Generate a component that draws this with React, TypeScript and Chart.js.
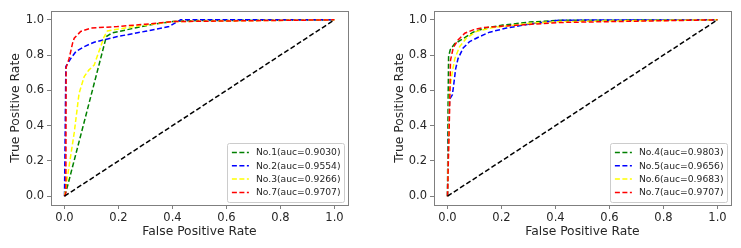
import React, { useEffect, useRef } from 'react';
import { Chart, registerables } from 'chart.js';

Chart.register(...registerables);

// ---------- data ----------
const TICKS = [0, 0.2, 0.4, 0.6, 0.8, 1.0];
const DIAG_FPR = [0, 1];
const DIAG_TPR = [0, 1];

const COLORS = ['green', 'blue', 'yellow', 'red'];

const LEFT_LABELS = ['No.1(auc=0.9030)', 'No.2(auc=0.9554)', 'No.3(auc=0.9266)', 'No.7(auc=0.9707)'];
const RIGHT_LABELS = ['No.4(auc=0.9803)', 'No.5(auc=0.9656)', 'No.6(auc=0.9683)', 'No.7(auc=0.9707)'];

const NO1_FPR = [0, 0.01, 0.155, 0.175, 0.25, 0.33, 0.4, 0.45, 1];
const NO1_TPR = [0, 0.05, 0.905, 0.925, 0.95, 0.975, 0.99, 0.995, 1];

const NO2_FPR = [0, 0.002, 0.005, 0.023, 0.042, 0.073, 0.11, 0.196, 0.3, 0.387, 0.43, 1];
const NO2_TPR = [0, 0.3, 0.735, 0.78, 0.82, 0.848, 0.873, 0.905, 0.935, 0.962, 1.0, 1.0];

const NO3_FPR = [0, 0.005, 0.02, 0.036, 0.054, 0.073, 0.09, 0.11, 0.147, 0.159, 0.258, 0.4, 1];
const NO3_TPR = [0, 0.05, 0.2, 0.36, 0.583, 0.678, 0.715, 0.744, 0.905, 0.937, 0.962, 0.99, 1];

const NO7L_FPR = [0, 0.005, 0.006, 0.017, 0.03, 0.036, 0.06, 0.097, 0.196, 0.3, 0.4, 1];
const NO7L_TPR = [0, 0.02, 0.73, 0.78, 0.868, 0.896, 0.934, 0.953, 0.962, 0.975, 0.99, 1];

const NO4_FPR = [0, 0.002, 0.004, 0.01, 0.027, 0.058, 0.095, 0.144, 0.205, 0.304, 0.415, 1];
const NO4_TPR = [0, 0.5, 0.79, 0.83, 0.865, 0.893, 0.93, 0.955, 0.97, 0.987, 0.997, 1];

const NO5_FPR = [0, 0.005, 0.008, 0.018, 0.022, 0.03, 0.039, 0.058, 0.082, 0.119, 0.156, 0.218, 0.304, 0.415, 1];
const NO5_TPR = [0, 0.45, 0.55, 0.575, 0.62, 0.72, 0.78, 0.84, 0.877, 0.905, 0.93, 0.953, 0.976, 0.998, 1];

const NO6_FPR = [0, 0.008, 0.018, 0.027, 0.045, 0.07, 0.107, 0.169, 0.304, 0.415, 1];
const NO6_TPR = [0, 0.6, 0.706, 0.78, 0.848, 0.896, 0.934, 0.956, 0.98, 0.99, 1];

const NO7R_FPR = [0, 0.008, 0.011, 0.021, 0.039, 0.064, 0.095, 0.132, 0.242, 0.415, 1];
const NO7R_TPR = [0, 0.5, 0.77, 0.84, 0.886, 0.924, 0.943, 0.956, 0.968, 0.985, 1];

const LEFT_SERIES = [
  [NO1_FPR, NO1_TPR],
  [NO2_FPR, NO2_TPR],
  [NO3_FPR, NO3_TPR],
  [NO7L_FPR, NO7L_TPR],
];
const RIGHT_SERIES = [
  [NO4_FPR, NO4_TPR],
  [NO5_FPR, NO5_TPR],
  [NO6_FPR, NO6_TPR],
  [NO7R_FPR, NO7R_TPR],
];

// ---------- styling ----------
const FONT = "'DejaVu Sans', sans-serif";
const TEXT = '#262626';
const FRAME = '#7f7f7f';
const DASH = [5, 2.5];

const zip = (xs: number[], ys: number[]) => xs.map((x, i) => ({ x, y: ys[i] }));

const framePlugin = {
  id: 'frame',
  afterDraw(chart: any) {
    const { ctx, chartArea: a } = chart;
    ctx.save();
    ctx.strokeStyle = FRAME;
    ctx.lineWidth = 1;
    ctx.strokeRect(Math.round(a.left) + 0.5, Math.round(a.top) + 0.5, Math.round(a.right - a.left), Math.round(a.bottom - a.top));
    ctx.restore();
  },
};

const legendPlugin = {
  id: 'rocLegend',
  afterDraw(chart: any) {
    const { ctx, chartArea: a } = chart;
    const items = chart.data.datasets.filter((d: any) => d.inLegend);
    ctx.save();
    ctx.font = `9.2px ${FONT}`;
    let tw = 0;
    items.forEach((d: any) => { tw = Math.max(tw, ctx.measureText(d.label).width); });
    const padL = 5, lineW = 17, gap = 7, padR = 3;
    const w = padL + lineW + gap + tw + padR;
    const h = 59;
    const x = a.right - 4.5 - w;
    const y = a.bottom - 3 - h;
    ctx.fillStyle = 'rgba(255,255,255,0.85)';
    ctx.strokeStyle = '#cccccc';
    ctx.lineWidth = 1;
    ctx.beginPath();
    (ctx as any).roundRect(Math.round(x) + 0.5, Math.round(y) + 0.5, Math.round(w), Math.round(h), 2);
    ctx.fill();
    ctx.stroke();
    items.forEach((d: any, i: number) => {
      const cy = y + 9.5 + i * 13.3;
      ctx.strokeStyle = d.borderColor;
      ctx.lineWidth = 1.5;
      ctx.setLineDash(DASH);
      ctx.beginPath();
      ctx.moveTo(x + padL, cy);
      ctx.lineTo(x + padL + lineW, cy);
      ctx.stroke();
      ctx.setLineDash([]);
      ctx.fillStyle = TEXT;
      ctx.textBaseline = 'middle';
      ctx.textAlign = 'left';
      ctx.fillText(d.label, x + padL + lineW + gap, cy + 0.5);
    });
    ctx.restore();
  },
};

function RocChart(props: { series: number[][][]; labels: string[]; yWidth: number; padRight: number; yTitlePad: number; width: number; left: number }) {
  const ref = useRef<HTMLCanvasElement | null>(null);
  useEffect(() => {
    if (!ref.current) return;
    const n = props.series.length;
    const datasets: any[] = props.series.map((s, i) => ({
      label: props.labels[i],
      data: zip(s[0], s[1]),
      borderColor: COLORS[i],
      borderWidth: 1.5,
      borderDash: DASH,
      pointRadius: 0,
      showLine: true,
      fill: false,
      tension: 0,
      inLegend: true,
      order: n + 1 - i,
    }));
    datasets.push({
      label: 'diag',
      data: zip(DIAG_FPR, DIAG_TPR),
      borderColor: 'black',
      borderWidth: 1.5,
      borderDash: DASH,
      pointRadius: 0,
      showLine: true,
      fill: false,
      inLegend: false,
      order: 0,
    });
    const tickSetter = (scale: any) => {
      scale.ticks = TICKS.map((v) => ({ value: v }));
    };
    const chart = new Chart(ref.current, {
      type: 'scatter',
      data: { datasets },
      options: {
        animation: false,
        responsive: false,
        maintainAspectRatio: false,
        devicePixelRatio: 1,
        layout: { padding: { top: 11, right: props.padRight, left: 0, bottom: 0 } },
        plugins: { legend: { display: false }, tooltip: { enabled: false } },
        scales: {
          x: {
            type: 'linear',
            min: -0.05,
            max: 1.05,
            afterBuildTicks: tickSetter,
            afterFit: (s: any) => { s.height = 43; },
            border: { display: false },
            grid: { drawOnChartArea: false, drawTicks: true, tickLength: 4, color: FRAME },
            ticks: { color: TEXT, font: { family: FONT, size: 11.5 }, padding: 2, maxRotation: 0, callback: (v: any) => Number(v).toFixed(1) },
            title: { display: true, text: 'False Positive Rate', color: TEXT, font: { family: FONT, size: 12.3 }, padding: { top: 0, bottom: 9 } },
          },
          y: {
            type: 'linear',
            min: -0.05,
            max: 1.05,
            afterBuildTicks: tickSetter,
            afterFit: (s: any) => { s.width = props.yWidth; },
            border: { display: false },
            grid: { drawOnChartArea: false, drawTicks: true, tickLength: 4, color: FRAME },
            ticks: { color: TEXT, font: { family: FONT, size: 11.5 }, padding: 3, callback: (v: any) => Number(v).toFixed(1) },
            title: { display: true, text: 'True Positive Rate', color: TEXT, font: { family: FONT, size: 12.3 }, padding: { top: props.yTitlePad, bottom: 0 } },
          },
        },
      },
      plugins: [framePlugin, legendPlugin],
    } as any);
    return () => chart.destroy();
  }, []);
  return (
    <canvas
      ref={ref}
      width={props.width}
      height={248}
      style={{ position: 'absolute', left: props.left, top: 0, width: props.width, height: 248 }}
    />
  );
}

export default function App() {
  return (
    <div style={{ position: 'fixed', left: 0, top: 0, width: 741, height: 248, background: '#ffffff' }}>
      <RocChart series={LEFT_SERIES} labels={LEFT_LABELS} yWidth={51} padRight={22} yTitlePad={8.5} width={370} left={0} />
      <RocChart series={RIGHT_SERIES} labels={RIGHT_LABELS} yWidth={64} padRight={10} yTitlePad={22} width={371} left={370} />
    </div>
  );
}
